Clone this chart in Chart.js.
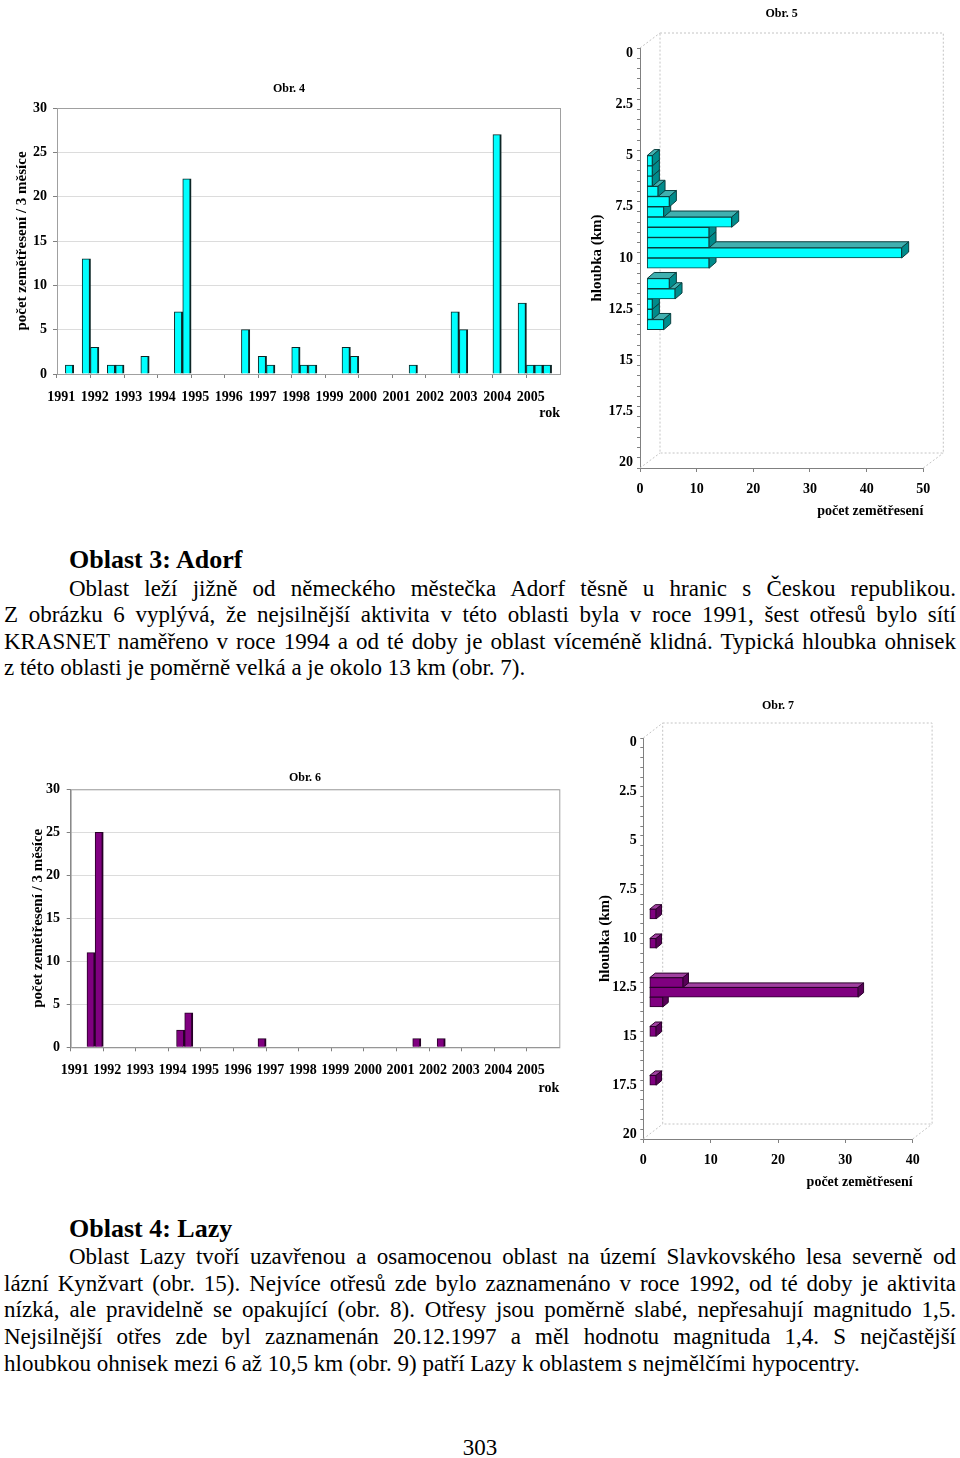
<!DOCTYPE html>
<html lang="cs">
<head>
<meta charset="utf-8">
<title>Obr. 4 - 7</title>
<script src="https://cdn.jsdelivr.net/npm/chart.js@4.4.1/dist/chart.umd.min.js"></script>
<style>
  html, body { margin: 0; padding: 0; background: #fff; }
  body { position: relative; width: 960px; height: 1458px; overflow: hidden;
         font-family: 'Liberation Serif', 'Times New Roman', serif; color: #000; }
  canvas { position: absolute; }
  .line { position: absolute; font-size: 23px; line-height: 26.3px; white-space: nowrap; }
  .head { position: absolute; left: 69px; font-size: 26px; line-height: 28px; font-weight: bold; white-space: nowrap; }
  .page { position: absolute; left: 0; width: 960px; text-align: center; font-size: 23px; line-height: 26px; }
</style>
</head>
<body>

<canvas id="obr4" width="578" height="360" style="left:0;top:70px"></canvas>
<canvas id="obr5" width="375" height="525" style="left:585px;top:0"></canvas>

<div class="head" style="top:546px">Oblast 3: Adorf</div>
<div class="line" data-w="887" style="left:69px;top:576px">Oblast leží jižně od německého městečka Adorf těsně u hranic s Českou republikou.</div>
<div class="line" data-w="952" style="left:4px;top:602.3px">Z obrázku 6 vyplývá, že nejsilnější aktivita v této oblasti byla v roce 1991, šest otřesů bylo sítí</div>
<div class="line" data-w="952" style="left:4px;top:628.6px">KRASNET naměřeno v roce 1994 a od té doby je oblast víceméně klidná. Typická hloubka ohnisek</div>
<div class="line" style="left:4px;top:654.9px">z této oblasti je poměrně velká a je okolo 13 km (obr. 7).</div>

<canvas id="obr6" width="610" height="345" style="left:0;top:760px"></canvas>
<canvas id="obr7" width="370" height="510" style="left:590px;top:690px"></canvas>

<div class="head" style="top:1215px">Oblast 4: Lazy</div>
<div class="line" data-w="887" style="left:69px;top:1243.7px">Oblast Lazy tvoří uzavřenou a osamocenou oblast na území Slavkovského lesa severně od</div>
<div class="line" data-w="952" style="left:4px;top:1270.7px">lázní Kynžvart (obr. 15). Nejvíce otřesů zde bylo zaznamenáno v roce 1992, od té doby je aktivita</div>
<div class="line" data-w="952" style="left:4px;top:1296.7px">nízká, ale pravidelně se opakující (obr. 8). Otřesy jsou poměrně slabé, nepřesahují magnitudo 1,5.</div>
<div class="line" data-w="952" style="left:4px;top:1323.7px">Nejsilnější otřes zde byl zaznamenán 20.12.1997 a měl hodnotu magnituda 1,4. S nejčastější</div>
<div class="line" style="left:4px;top:1350.7px">hloubkou ohnisek mezi 6 až 10,5 km (obr. 9) patří Lazy k oblastem s nejmělčími hypocentry.</div>

<div class="page" style="top:1435px">303</div>

<script>
'use strict';

// Stretch the justified lines to their full width
document.querySelectorAll('.line[data-w]').forEach(function (el) {
  var target = parseFloat(el.dataset.w);
  var natural = el.getBoundingClientRect().width;
  var spaces = el.textContent.split(' ').length - 1;
  el.style.wordSpacing = ((target - natural) / spaces) + 'px';
});

// ---------- data ----------
var years = ['1991', '1992', '1993', '1994', '1995', '1996', '1997', '1998',
  '1999', '2000', '2001', '2002', '2003', '2004', '2005'];
var quarters = ['I', 'II', 'III', 'IV'];
var countTicks = [0, 5, 10, 15, 20, 25, 30];

// Obr. 4 - earthquakes per 3 months
var obr4Counts = [
  0, 1, 0, 13,   // 1991
  3, 0, 1, 1,    // 1992
  0, 0, 2, 0,    // 1993
  0, 0, 7, 22,   // 1994
  0, 0, 0, 0,    // 1995
  0, 0, 5, 0,    // 1996
  2, 1, 0, 0,    // 1997
  3, 1, 1, 0,    // 1998
  0, 0, 3, 2,    // 1999
  0, 0, 0, 0,    // 2000
  0, 0, 1, 0,    // 2001
  0, 0, 0, 7,    // 2002
  5, 0, 0, 0,    // 2003
  27, 0, 0, 8,   // 2004
  1, 1, 1, 0     // 2005
];

// Obr. 6 - Adorf, earthquakes per 3 months
var obr6Counts = [
  0, 0, 11, 25,  // 1991
  0, 0, 0, 0,    // 1992
  0, 0, 0, 0,    // 1993
  0, 2, 4, 0,    // 1994
  0, 0, 0, 0,    // 1995
  0, 0, 0, 1,    // 1996
  0, 0, 0, 0,    // 1997
  0, 0, 0, 0,    // 1998
  0, 0, 0, 0,    // 1999
  0, 0, 0, 0,    // 2000
  0, 0, 1, 0,    // 2001
  0, 1, 0, 0,    // 2002
  0, 0, 0, 0,    // 2003
  0, 0, 0, 0,    // 2004
  0, 0, 0, 0     // 2005
];

// Obr. 5 and Obr. 7 - depth histograms, 0.5 km bins (top of each bin)
var binSize = 0.5;
var depthTicks = [0, 2.5, 5, 7.5, 10, 12.5, 15, 17.5, 20];
var obr5Depths = [5, 5.5, 6, 6.5, 7, 7.5, 8, 8.5, 9, 9.5, 10, 11, 11.5, 12, 12.5, 13];
var obr5Counts = [1, 1, 1, 2, 4, 3, 15, 11, 11, 45, 11, 4, 5, 1, 1, 3];
var obr7Depths = [8.5, 10, 12, 12.5, 13, 14.5, 17];
var obr7Counts = [1, 1, 5, 31, 2, 1, 1];

// ---------- defaults ----------
Chart.defaults.font.family = "'Liberation Serif', 'Times New Roman', serif";
Chart.defaults.font.weight = 'bold';
Chart.defaults.font.size = 14;
Chart.defaults.color = '#000';
Chart.defaults.animation = false;

// Grey frame round the plot area
var framePlugin = {
  id: 'frame',
  beforeDatasetsDraw: function (chart) {
    var a = chart.chartArea;
    var ctx = chart.ctx;
    ctx.save();
    ctx.strokeStyle = '#a0a0a0';
    ctx.lineWidth = 1;
    ctx.strokeRect(a.left + 0.5, a.top + 0.5, a.right - a.left, a.bottom - a.top);
    ctx.restore();
  }
};

// Fake 3D: back wall, bar tops and sides, bars pushed into depth
var depthPlugin = {
  id: 'depth',
  beforeDatasetsDraw: function (chart, args, o) {
    var a = chart.chartArea;
    var ctx = chart.ctx;
    ctx.save();
    ctx.strokeStyle = '#c4c4c4';
    ctx.setLineDash([2, 2]);
    ctx.lineWidth = 1;
    ctx.beginPath();
    ctx.rect(a.left + o.wallX, a.top + o.wallY, a.right - a.left, a.bottom - a.top);
    ctx.moveTo(a.left, a.bottom); ctx.lineTo(a.left + o.wallX, a.bottom + o.wallY);
    ctx.moveTo(a.right, a.bottom); ctx.lineTo(a.right + o.wallX, a.bottom + o.wallY);
    ctx.moveTo(a.left, a.top); ctx.lineTo(a.left + o.wallX, a.top + o.wallY);
    ctx.stroke();
    ctx.restore();

    // lower bars first so the bar above covers their top face
    var els = chart.getDatasetMeta(0).data.slice().sort(function (p, q) { return q.y - p.y; });
    ctx.save();
    ctx.translate(o.shift, 0);
    ctx.strokeStyle = o.edge;
    ctx.lineWidth = 1;
    els.forEach(function (el) {
      var p = el.getProps(['x', 'y', 'base', 'height'], true);
      if (p.x - p.base < 0.5) return;
      var top = p.y - p.height / 2;
      var bot = p.y + p.height / 2;
      ctx.beginPath();
      ctx.moveTo(p.base, top);
      ctx.lineTo(p.base + o.dx, top + o.dy);
      ctx.lineTo(p.x + o.dx, top + o.dy);
      ctx.lineTo(p.x, top);
      ctx.closePath();
      ctx.fillStyle = o.top;
      ctx.fill();
      ctx.stroke();
      ctx.beginPath();
      ctx.moveTo(p.x, top);
      ctx.lineTo(p.x + o.dx, top + o.dy);
      ctx.lineTo(p.x + o.dx, bot + o.dy);
      ctx.lineTo(p.x, bot);
      ctx.closePath();
      ctx.fillStyle = o.side;
      ctx.fill();
      ctx.stroke();
    });
    ctx.restore();
    // fronts drawn by Chart.js in the same shifted plane
    ctx.save();
    ctx.translate(o.shift, 0);
  },
  afterDatasetsDraw: function (chart) {
    chart.ctx.restore();
  }
};

// Bars per quarter over the years
function timeChart(id, counts, fill, edge, title, box) {
  var labels = [];
  years.forEach(function (y) {
    quarters.forEach(function (q) { labels.push(q + '/' + y); });
  });
  return new Chart(document.getElementById(id), {
    type: 'bar',
    data: {
      labels: labels,
      datasets: [{
        data: counts,
        backgroundColor: fill,
        borderColor: edge,
        borderWidth: { left: 1, top: 1, right: 2, bottom: 0 },
        barPercentage: 1,
        categoryPercentage: 1
      }]
    },
    options: {
      responsive: false,
      layout: { padding: 0 },
      plugins: {
        legend: { display: false },
        tooltip: { enabled: false },
        title: {
          display: true, text: title, font: { size: 12 }, color: '#000',
          padding: { top: box.titleTop, bottom: box.titleBottom }
        }
      },
      scales: {
        x: {
          grid: {
            drawOnChartArea: false,
            tickLength: 4,
            color: function (c) { return c.index % 4 === 0 ? '#808080' : 'rgba(0,0,0,0)'; }
          },
          border: { color: '#808080' },
          ticks: {
            autoSkip: false, maxRotation: 0, minRotation: 0, padding: box.xPad,
            callback: function (v, i) { return i % 4 === 0 ? years[i / 4] : ''; }
          },
          title: {
            display: true, text: 'rok', align: 'end', font: { size: 14 },
            padding: { top: 0, bottom: box.rokBottom }
          },
          afterFit: function (s) { s.height = box.xHeight; }
        },
        y: {
          min: 0, max: 30,
          ticks: {
            stepSize: 5, padding: box.yPad,
            callback: function (v) { return countTicks.indexOf(v) >= 0 ? v : ''; }
          },
          grid: { color: '#dcdcdc', tickColor: '#808080', tickLength: 4 },
          border: { color: '#808080' },
          title: {
            display: true, text: 'počet zemětřesení / 3 měsíce', font: { size: 15 },
            padding: { top: box.yTitle, bottom: 0 }
          },
          afterFit: function (s) { s.width = box.yWidth; }
        },
        // empty strip on the right so the title stays centred on the canvas
        pad: {
          type: 'linear', position: 'right', display: true,
          grid: { display: false }, border: { display: false }, ticks: { display: false },
          afterFit: function (s) { s.width = box.padRight; }
        }
      }
    },
    plugins: [framePlugin]
  });
}

// Horizontal depth histogram
function depthChart(id, depths, counts, maxCount, colors, title, box) {
  var points = depths.map(function (d, i) {
    return { y: d + binSize / 2, x: counts[i] };
  });
  return new Chart(document.getElementById(id), {
    type: 'bar',
    data: {
      datasets: [{
        data: points,
        backgroundColor: colors.front,
        borderColor: colors.edge,
        borderWidth: 1,
        borderSkipped: false,
        barPercentage: 1,
        categoryPercentage: 1,
        clip: false
      }]
    },
    options: {
      indexAxis: 'y',
      responsive: false,
      layout: { padding: { left: 0, top: 0, bottom: 0, right: box.padRight } },
      plugins: {
        legend: { display: false },
        tooltip: { enabled: false },
        title: {
          display: true, text: title, fullSize: false, font: { size: 12 }, color: '#000',
          padding: { top: box.titleTop, bottom: box.titleBottom }
        },
        depth: {
          wallX: box.wallX, wallY: box.wallY, shift: box.shift, dx: box.dx, dy: box.dy,
          top: colors.top, side: colors.side, edge: colors.edge
        }
      },
      scales: {
        y: {
          type: 'linear', reverse: true, min: 0, max: 20,
          ticks: {
            stepSize: 0.5, autoSkip: false, padding: box.yPad,
            callback: function (v) { return depthTicks.indexOf(v) >= 0 ? String(v) : ''; }
          },
          grid: { drawOnChartArea: false, tickLength: 3, color: '#808080' },
          border: { color: '#808080' },
          title: {
            display: true, text: 'hloubka (km)', font: { size: 15 },
            padding: { top: box.yTitle, bottom: 0 }
          },
          afterFit: function (s) { s.width = box.yWidth; }
        },
        x: {
          type: 'linear', min: 0, max: maxCount,
          ticks: { stepSize: 10, padding: box.xPad },
          grid: { drawOnChartArea: false, tickLength: 4, color: '#808080' },
          border: { color: '#808080' },
          title: {
            display: true, text: 'počet zemětřesení', align: 'end', font: { size: 14 },
            padding: { top: 0, bottom: box.xTitleBottom }
          },
          afterFit: function (s) { s.height = box.xHeight; }
        }
      }
    },
    plugins: [depthPlugin]
  });
}

timeChart('obr4', obr4Counts, '#00FFFF', '#0d2626', 'Obr. 4', {
  padRight: 18, titleTop: 11.8, titleBottom: 11.8, xPad: 11, rokBottom: 8.6,
  xHeight: 56, yPad: 6, yTitle: 13, yWidth: 57
});

timeChart('obr6', obr6Counts, '#800080', '#260026', 'Obr. 6', {
  padRight: 50.7, titleTop: 10.8, titleBottom: 4.1, xPad: 11, rokBottom: 8.6,
  xHeight: 57.7, yPad: 6.7, yTitle: 28.7, yWidth: 70.7
});

depthChart('obr5', obr5Depths, obr5Counts, 50,
  { front: '#00FFFF', top: '#40B0B0', side: '#008B8B', edge: '#0b3f3f' }, 'Obr. 5', {
    padRight: 36.7, titleTop: 6.8, titleBottom: 26.8, yPad: 4, yTitle: 3, yWidth: 55,
    xPad: 8.5, xTitleBottom: 4.9, xHeight: 57,
    wallX: 20, wallY: -15, shift: 6.7, dx: 7, dy: -6
  });

depthChart('obr7', obr7Depths, obr7Counts, 40,
  { front: '#800080', top: '#A040A0', side: '#580058', edge: '#2b002b' }, 'Obr. 7', {
    padRight: 47.3, titleTop: 8.8, titleBottom: 24.8, yPad: 3.6, yTitle: 6, yWidth: 53.3,
    xPad: 8.5, xTitleBottom: 9.3, xHeight: 61,
    wallX: 19.4, wallY: -15, shift: 6, dx: 5.5, dy: -4.5
  });
</script>
</body>
</html>
